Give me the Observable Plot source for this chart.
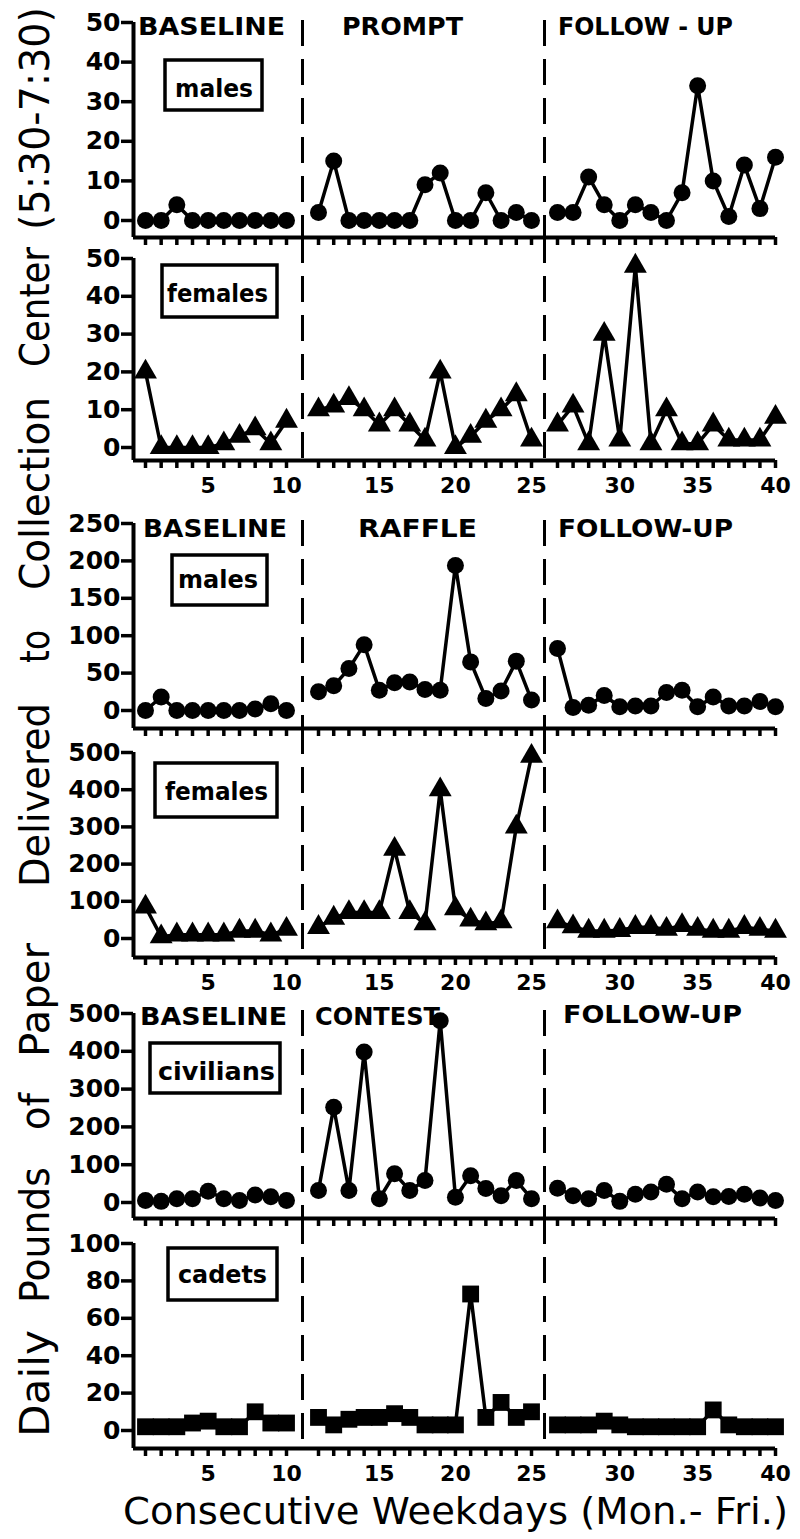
<!DOCTYPE html>
<html><head><meta charset="utf-8">
<script src="https://cdn.jsdelivr.net/npm/d3@7"></script>
<script src="https://cdn.jsdelivr.net/npm/@observablehq/plot@0.6"></script>
<style>
html,body{margin:0;padding:0;background:#fff;}
#root{position:relative;width:800px;height:1539px;overflow:hidden;background:#fff;}
</style></head><body><div id="root"></div>
<script>
// ---------- DATA ----------
const baselineDays = [1,2,3,4,5,6,7,8,9,10];
const treatmentDays = [11,12,13,14,15,16,17,18,19,20,21,22,23,24,25];
const followupDays = [26,27,28,29,30,31,32,33,34,35,36,37,38,39,40];
const days = [...baselineDays, ...treatmentDays, ...followupDays];
const xTickLabels = [5,10,15,20,25,30,35,40];

const promptMales = [0,0,4,0,0,0,0,0,0,0, 2,15,0,0,0,0,0,9,12,0,0,7,0,2,0, 2,2,11,4,0,4,2,0,7,34,10,1,14,3,16];
const promptFemales = [20,0,0,0,0,1,3,5,1,7, 10,11,13,10,6,10,6,2,20,0,3,7,10,14,2, 6,11,1,30,2,48,1,10,1,1,6,2,2,2,8];
const raffleMales = [0,18,0,0,0,0,0,2,9,0, 25,33,56,88,27,37,38,28,27,194,65,16,26,66,14, 83,4,7,20,5,6,6,24,27,5,18,6,6,12,5];
const raffleFemales = [85,5,10,10,10,10,20,20,10,25, 30,55,70,70,70,240,70,40,400,80,50,40,45,300,490, 45,32,20,20,22,30,30,25,35,25,20,20,30,25,20];
const contestCivilians = [5,3,10,10,30,10,5,20,15,5, 32,252,32,398,10,76,32,58,481,14,71,37,18,58,10, 38,18,10,32,3,22,28,48,10,28,15,16,22,12,5];
const contestCadets = [2,2,2,4,5,2,2,10,4,4, 7,3,6,7,7,9,7,3,3,3,73,7,15,7,10, 3,3,3,5,3,2,2,2,2,2,11,3,2,2,2];

const yTicks50 = [0,10,20,30,40,50];
const yTicks250 = [0,50,100,150,200,250];
const yTicks500 = [0,100,200,300,400,500];
const yTicks100 = [0,20,40,60,80,100];

const phaseLabelsPrompt = ["BASELINE","PROMPT","FOLLOW - UP"];
const phaseLabelsRaffle = ["BASELINE","RAFFLE","FOLLOW-UP"];
const phaseLabelsContest = ["BASELINE","CONTEST","FOLLOW-UP"];
const groupLabels = ["males","females","males","females","civilians","cadets"];
const yTitleWords = ["Daily","Pounds","of","Paper","Delivered","to","Collection","Center","(5:30-7:30)"];
const xTitle = "Consecutive Weekdays (Mon.- Fri.)";

// ---------- LAYOUT ----------
const xDomain = [0.35, 1, 10, 11, 25, 26, 40];
const xRange  = [133, 145, 286, 318, 531, 557, 775];
const phaseBounds = [10.5, 25.5];
const FONT = "'DejaVu Sans', 'Liberation Sans', sans-serif";

const panels = [
  {values: promptMales,     top: 0,    height: 250, y0: 220,  yTop: 22,   axis: 237,  dashTop: 20,   ymax: 50,  yticks: yTicks50,  symbol: "circle",   r: 8.5, labels: false},
  {values: promptFemales,   top: 240,  height: 265, y0: 447,  yTop: 258,  axis: 460,  dashTop: 237,  ymax: 50,  yticks: yTicks50,  symbol: "triangle", r: 8.5, labels: true},
  {values: raffleMales,     top: 505,  height: 230, y0: 710,  yTop: 523,  axis: 728,  dashTop: 520,  ymax: 250, yticks: yTicks250, symbol: "circle",   r: 8.5, labels: false},
  {values: raffleFemales,   top: 728,  height: 272, y0: 938,  yTop: 752,  axis: 957,  dashTop: 728,  ymax: 500, yticks: yTicks500, symbol: "triangle", r: 8.5, labels: true},
  {values: contestCivilians,top: 995,  height: 230, y0: 1202, yTop: 1013, axis: 1218, dashTop: 1010, ymax: 500, yticks: yTicks500, symbol: "circle",   r: 8.5, labels: false},
  {values: contestCadets,   top: 1218, height: 275, y0: 1430, yTop: 1243, axis: 1448, dashTop: 1218, ymax: 100, yticks: yTicks100, symbol: "square",   r: 9.5, labels: true}
];

const root = document.getElementById("root");

function phaseOf(d) {
  return baselineDays.includes(d) ? "baseline" : treatmentDays.includes(d) ? "treatment" : "follow-up";
}

panels.forEach(p => {
  const k = (p.y0 - p.yTop) / p.ymax;
  const v = px => (p.y0 - px) / k;
  const rows = days.map((d, i) => ({day: d, value: p.values[i], phase: phaseOf(d)}));
  const svg = Plot.plot({
    width: 800,
    height: p.height,
    marginTop: 0,
    marginRight: 800 - xRange[xRange.length - 1],
    marginBottom: p.top + p.height - p.axis,
    marginLeft: xRange[0],
    style: {background: "transparent", overflow: "visible", fontFamily: FONT, fontWeight: "bold", color: "black", position: "absolute", left: "0px", top: p.top + "px"},
    x: {type: "linear", domain: xDomain, range: xRange, axis: null},
    y: {type: "linear", domain: [0, p.ymax], range: [p.y0 - p.top, p.yTop - p.top], axis: null},
    marks: [
      Plot.ruleX(phaseBounds, {y1: v(p.dashTop), y2: v(p.axis), stroke: "black", strokeWidth: 3, strokeDasharray: "26,13"}),
      Plot.ruleX([xDomain[0]], {y1: v(p.axis), y2: p.ymax, stroke: "black", strokeWidth: 4}),
      Plot.ruleY([v(p.axis)], {x1: xDomain[0], x2: 40, stroke: "black", strokeWidth: 4}),
      Plot.axisY({ticks: p.yticks, tickSize: 12, tickPadding: 1, fontSize: 25, fontWeight: "bold", strokeWidth: 3.5, label: null}),
      Plot.axisX({ticks: days, tickSize: 8, tickPadding: 9, fontSize: 22, fontWeight: "bold", strokeWidth: 3.5, label: null,
                  tickFormat: d => (p.labels && xTickLabels.includes(d)) ? String(d) : ""}),
      Plot.line(rows, {x: "day", y: "value", z: "phase", stroke: "black", strokeWidth: 3.5}),
      Plot.dot(rows, {x: "day", y: "value", symbol: p.symbol, r: p.r, fill: "black", stroke: "none"})
    ]
  });
  root.appendChild(svg);
});

// ---------- ANNOTATIONS ----------
const ov = d3.create("svg").attr("width", 800).attr("height", 1539)
  .style("position", "absolute").style("left", "0px").style("top", "0px").style("overflow", "visible");

const phaseLayout = [
  {labels: phaseLabelsPrompt,  pos: [[138, 35, 147], [342, 35, 121], [558, 35, 175]]},
  {labels: phaseLabelsRaffle,  pos: [[143, 537, 144], [358, 537, 119], [558, 537, 175]]},
  {labels: phaseLabelsContest, pos: [[140, 1025, 147], [315, 1025, 125], [563, 1023, 179]]}
];
phaseLayout.forEach(g => g.labels.forEach((t, i) => {
  const [x, y, w] = g.pos[i];
  ov.append("text").attr("x", x).attr("y", y).attr("textLength", w).attr("lengthAdjust", "spacingAndGlyphs")
    .attr("font-family", FONT).attr("font-weight", "bold").attr("font-size", 25).attr("fill", "black").text(t);
}));

const boxLayout = [
  {box: [165, 60, 262, 110],   text: [175, 97, 78]},
  {box: [162, 265, 277, 317],  text: [167, 302, 101]},
  {box: [172, 555, 267, 605],  text: [178, 588, 80]},
  {box: [155, 763, 277, 817],  text: [165, 800, 103]},
  {box: [150, 1043, 280, 1093],text: [158, 1080, 117]},
  {box: [168, 1248, 277, 1300],text: [178, 1283, 89]}
];
boxLayout.forEach((b, i) => {
  const [x1, y1, x2, y2] = b.box;
  ov.append("rect").attr("x", x1).attr("y", y1).attr("width", x2 - x1).attr("height", y2 - y1)
    .attr("fill", "white").attr("stroke", "black").attr("stroke-width", 3.5);
  const [tx, ty, tw] = b.text;
  ov.append("text").attr("x", tx).attr("y", ty).attr("textLength", tw).attr("lengthAdjust", "spacingAndGlyphs")
    .attr("font-family", FONT).attr("font-weight", "bold").attr("font-size", 24).attr("fill", "black").text(groupLabels[i]);
});

// y title words: [bottom, top] of each word along the page
const yTitleSpans = [[1437,1330],[1303,1167],[1130,1093],[1057,943],[887,703],[663,630],[590,397],[367,247],[230,7]];
yTitleWords.forEach((w, i) => {
  const [b, t] = yTitleSpans[i];
  ov.append("text").attr("transform", `translate(49,${b}) rotate(-90)`)
    .attr("textLength", b - t).attr("lengthAdjust", "spacingAndGlyphs")
    .attr("font-family", FONT).attr("font-size", 40).attr("fill", "black").text(w);
});

ov.append("text").attr("x", 123).attr("y", 1524).attr("textLength", 665).attr("lengthAdjust", "spacingAndGlyphs")
  .attr("font-family", FONT).attr("font-size", 38).attr("fill", "black").text(xTitle);

root.appendChild(ov.node());
</script></body></html>
